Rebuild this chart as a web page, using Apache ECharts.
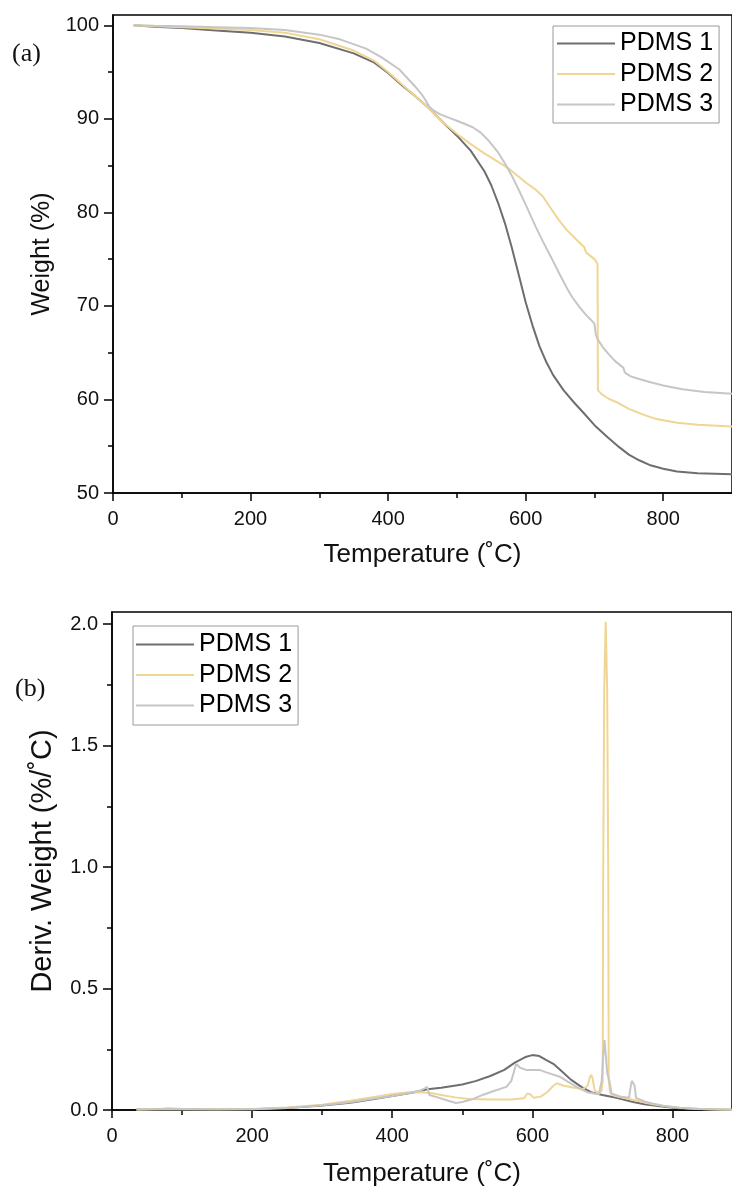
<!DOCTYPE html>
<html>
<head>
<meta charset="utf-8">
<script src="https://cdn.jsdelivr.net/npm/echarts@6/dist/echarts.min.js"></script>
<style>
html,body{margin:0;padding:0;background:#fff;}
#c{width:732px;height:1190px;}
</style>
</head>
<body>
<div id="c"></div>
<script>
// ---------- labels ----------
var seriesNames = ['PDMS 1', 'PDMS 2', 'PDMS 3'];
var xTitle = 'Temperature (˚C)';
var yTitleTop = 'Weight (%)';
var yTitleBottom = 'Deriv. Weight (%/˚C)';
var xTicks = [0, 200, 400, 600, 800];
var xMinorTicks = [100, 300, 500, 700];
var yTicksTop = [50, 60, 70, 80, 90, 100];
var yMinorTicksTop = [55, 65, 75, 85, 95];
var yTicksBottom = [0, 0.5, 1.0, 1.5, 2.0];
var yMinorTicksBottom = [0.25, 0.75, 1.25, 1.75];

// ---------- (a) TGA: weight (%) ----------
var tgaT1 = [30, 60, 100, 150, 200, 250, 300, 350, 380, 400, 420, 440, 460, 480, 500, 520, 540, 550, 560, 570, 580, 590, 600, 610, 620, 630, 640, 655, 670, 685, 702, 720, 736, 750, 765, 780, 800, 820, 850, 900];
var tgaW1 = [100, 99.85, 99.7, 99.45, 99.2, 98.8, 98.1, 97.0, 96.0, 94.9, 93.6, 92.4, 91.1, 89.6, 88.2, 86.6, 84.4, 82.9, 81.0, 78.8, 76.2, 73.3, 70.4, 67.9, 65.7, 64.0, 62.6, 61.0, 59.7, 58.5, 57.1, 55.9, 54.9, 54.1, 53.5, 53.0, 52.6, 52.3, 52.1, 52.0];

var tgaT2 = [30, 60, 100, 150, 200, 250, 300, 350, 380, 400, 420, 440, 460, 480, 500, 520, 540, 560, 575, 590, 600, 615, 625, 635, 648, 660, 675, 685, 688, 700, 704.5, 705, 710, 720, 735, 750, 770, 790, 820, 850, 900];
var tgaW2 = [100, 99.9, 99.8, 99.65, 99.5, 99.2, 98.5, 97.3, 96.2, 95.0, 93.7, 92.4, 91.1, 89.6, 88.4, 87.3, 86.3, 85.4, 84.7, 83.8, 83.2, 82.4, 81.7, 80.6, 79.2, 78.1, 77.0, 76.3, 75.7, 75.0, 74.5, 61.0, 60.6, 60.1, 59.6, 59.0, 58.4, 57.9, 57.5, 57.3, 57.1];

var tgaT3 = [30, 60, 100, 150, 200, 250, 300, 330, 368, 390, 416, 440, 450, 456, 460, 466, 475, 489, 500, 510, 523, 535, 547, 559, 571, 580, 590, 602, 615, 625, 639, 650, 660, 668, 678, 687, 695, 700, 702, 705, 712, 720, 730, 742, 744, 752, 760, 779, 800, 828, 860, 900];
var tgaW3 = [100, 99.95, 99.9, 99.8, 99.7, 99.5, 99.0, 98.5, 97.5, 96.6, 95.3, 93.4, 92.5, 91.8, 91.3, 90.9, 90.5, 90.1, 89.8, 89.5, 89.1, 88.5, 87.6, 86.5, 85.1, 83.9, 82.4, 80.5, 78.4, 76.9, 74.9, 73.3, 71.9, 70.9, 69.9, 69.1, 68.5, 68.1, 66.9, 66.4, 65.6, 64.9, 64.1, 63.4, 62.9, 62.5, 62.3, 61.9, 61.5, 61.1, 60.8, 60.6];

// ---------- (b) DTG: deriv. weight (%/˚C) ----------
var dtgT1 = [35, 60, 80, 100, 150, 200, 250, 300, 340, 370, 400, 430, 450, 470, 500, 520, 540, 560, 575, 590, 600, 610, 620, 630, 640, 655, 670, 685, 700, 720, 744, 760, 791, 810, 830, 860, 885];
var dtgD1 = [0.002, 0.003, 0.005, 0.004, 0.002, 0.003, 0.008, 0.018, 0.03, 0.043, 0.058, 0.072, 0.085, 0.092, 0.105, 0.12, 0.14, 0.165, 0.195, 0.218, 0.226, 0.222, 0.205, 0.19, 0.165, 0.125, 0.095, 0.072, 0.062, 0.05, 0.033, 0.024, 0.012, 0.007, 0.004, 0.002, 0.001];

var dtgT2 = [35, 60, 100, 150, 200, 250, 300, 340, 370, 400, 420, 440, 455, 470, 490, 510, 540, 570, 588, 593, 597, 602, 612, 622, 630, 635, 645, 660, 672, 679, 682, 684, 686, 689, 695, 699, 700.5, 701, 702.6, 704.7, 706.8, 708.5, 709, 711, 716, 730, 750, 770, 790, 810, 840, 885];
var dtgD2 = [0.002, 0.003, 0.003, 0.003, 0.004, 0.01, 0.022, 0.038, 0.052, 0.066, 0.072, 0.073, 0.07, 0.062, 0.052, 0.045, 0.043, 0.043, 0.048, 0.068, 0.065, 0.05, 0.055, 0.075, 0.1, 0.11, 0.1, 0.092, 0.086, 0.1, 0.135, 0.145, 0.13, 0.08, 0.07, 0.08, 0.12, 0.9, 1.73, 2.01, 1.73, 0.9, 0.12, 0.07, 0.06, 0.05, 0.038, 0.025, 0.015, 0.009, 0.004, 0.001];

var dtgT3 = [35, 60, 100, 150, 200, 250, 300, 340, 370, 400, 420, 440, 447, 450, 453, 465, 480, 491, 500, 515, 530, 545, 563, 570, 577, 582, 591, 600, 610, 620, 639, 650, 667, 680, 695, 699, 701, 703, 705, 707, 710, 713, 725, 738, 740, 742, 744, 746, 748, 760, 770, 790, 810, 840, 885];
var dtgD3 = [0.002, 0.003, 0.004, 0.003, 0.003, 0.008, 0.02, 0.032, 0.045, 0.058, 0.068, 0.08, 0.09, 0.095, 0.062, 0.052, 0.038, 0.029, 0.033, 0.045, 0.063, 0.078, 0.095, 0.12, 0.19, 0.175, 0.165, 0.165, 0.165, 0.155, 0.137, 0.118, 0.089, 0.072, 0.065, 0.12, 0.22, 0.288, 0.22, 0.15, 0.12, 0.068, 0.056, 0.05, 0.09, 0.12, 0.126, 0.1, 0.05, 0.035, 0.028, 0.016, 0.009, 0.004, 0.001];

var colors = ['#6e6e6e', '#f0d594', '#c6c6c6'];

function zip(a, b) { return a.map(function (v, i) { return [v, b[i]]; }); }

var FONT = '"Liberation Sans", Arial, sans-serif';
var txtColor = '#111';

function mainX(grid, max, gap) {
  return {
    type: 'value', gridIndex: grid, min: 0, max: max, position: 'bottom',
    name: xTitle, nameLocation: 'middle', nameGap: gap,
    nameTextStyle: { fontFamily: FONT, fontSize: 26, color: txtColor },
    axisLine: { show: true, onZero: false, lineStyle: { color: '#000', width: 1.5 } },
    axisTick: { show: true, customValues: xTicks, length: 8, lineStyle: { color: '#000', width: 1.5 } },
    axisLabel: { customValues: xTicks, margin: 16, fontFamily: FONT, fontSize: 20, color: txtColor },
    splitLine: { show: false }
  };
}
function minorX(grid, max) {
  return {
    type: 'value', gridIndex: grid, min: 0, max: max, position: 'bottom',
    axisLine: { show: false },
    axisTick: { show: true, customValues: xMinorTicks, length: 5, lineStyle: { color: '#000', width: 1.5 } },
    axisLabel: { show: false }, splitLine: { show: false }
  };
}
function mainY(grid, min, max, ticks, title, fmt, fs, gap) {
  return {
    type: 'value', gridIndex: grid, min: min, max: max, position: 'left',
    name: title, nameLocation: 'middle', nameGap: gap, nameRotate: 90,
    nameTextStyle: { fontFamily: FONT, fontSize: fs, color: txtColor },
    axisLine: { show: true, onZero: false, lineStyle: { color: '#000', width: 1.5 } },
    axisTick: { show: true, customValues: ticks, length: 9, lineStyle: { color: '#000', width: 1.5 } },
    axisLabel: { customValues: ticks, margin: 14, fontFamily: FONT, fontSize: 20, color: txtColor, formatter: fmt },
    splitLine: { show: false }
  };
}
function minorY(grid, min, max, ticks) {
  return {
    type: 'value', gridIndex: grid, min: min, max: max, position: 'left',
    axisLine: { show: false },
    axisTick: { show: true, customValues: ticks, length: 5, lineStyle: { color: '#000', width: 1.5 } },
    axisLabel: { show: false }, splitLine: { show: false }
  };
}
function lineSeries(name, data, xi, yi, color) {
  return {
    type: 'line', name: name, data: data, xAxisIndex: xi, yAxisIndex: yi,
    symbol: 'none', showSymbol: false, smooth: false, animation: false,
    lineStyle: { color: color, width: 2 }, itemStyle: { color: color }
  };
}
function legend(left, top, pad) {
  return {
    orient: 'vertical', left: left, top: top, padding: pad,
    icon: 'rect', itemWidth: 58, itemHeight: 2, itemGap: 5.5,
    borderColor: '#9a9a9a', borderWidth: 1, backgroundColor: '#fff',
    textStyle: { fontFamily: FONT, fontSize: 25, color: '#000' },
    data: seriesNames.slice(),
    selectedMode: false
  };
}

var chart = echarts.init(document.getElementById('c'), null, { renderer: 'canvas' });
chart.setOption({
  animation: false,
  backgroundColor: '#fff',
  grid: [
    { left: 113, top: 15, right: -1, height: 478, show: true, borderColor: '#000', borderWidth: 1.5, containLabel: false },
    { left: 112, top: 612, right: -1, height: 498, show: true, borderColor: '#000', borderWidth: 1.5, containLabel: false }
  ],
  xAxis: [mainX(0, 900, 49), minorX(0, 900), mainX(1, 885, 51), minorX(1, 885)],
  yAxis: [
    mainY(0, 50, 101.1, yTicksTop, yTitleTop, function (v) { return String(v); }, 25, 58),
    minorY(0, 50, 101.1, yMinorTicksTop),
    mainY(1, 0, 2.05, yTicksBottom, yTitleBottom, function (v) { return v.toFixed(1); }, 29, 55),
    minorY(1, 0, 2.05, yMinorTicksBottom)
  ],
  legend: [
    legend(553, 26, [5, 6, 6, 4]),
    legend(133, 626, [6, 6, 7, 3])
  ],
  series: [
    lineSeries(seriesNames[0], zip(tgaT1, tgaW1), 0, 0, colors[0]),
    lineSeries(seriesNames[1], zip(tgaT2, tgaW2), 0, 0, colors[1]),
    lineSeries(seriesNames[2], zip(tgaT3, tgaW3), 0, 0, colors[2]),
    lineSeries(seriesNames[0], zip(dtgT1, dtgD1), 2, 2, colors[0]),
    lineSeries(seriesNames[1], zip(dtgT2, dtgD2), 2, 2, colors[1]),
    lineSeries(seriesNames[2], zip(dtgT3, dtgD3), 2, 2, colors[2])
  ],
  graphic: [
    { type: 'text', left: 12, top: 41, style: { text: '(a)', font: '26px "Liberation Serif", serif', fill: '#111' } },
    { type: 'text', left: 15, top: 676, style: { text: '(b)', font: '26px "Liberation Serif", serif', fill: '#111' } }
  ]
});
</script>
</body>
</html>
